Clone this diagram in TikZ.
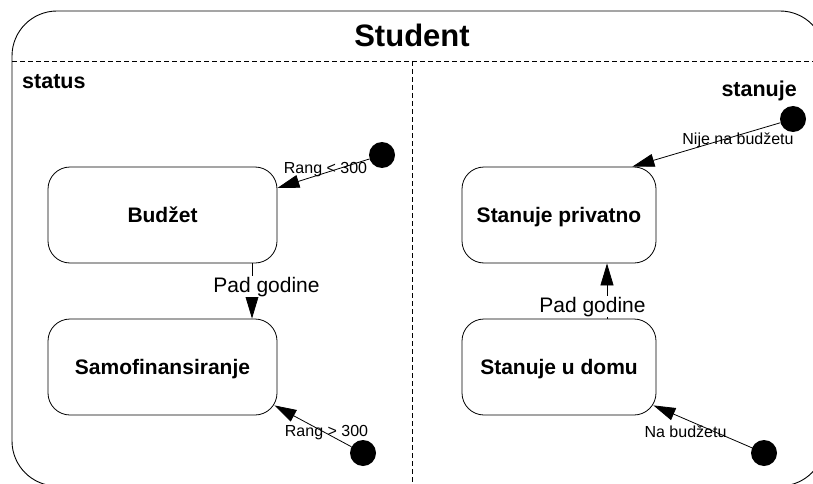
\documentclass[tikz,border=0pt]{standalone}
\usepackage{fontspec}
\setmainfont{Liberation Sans}
\usetikzlibrary{arrows.meta}
\begin{document}
\begin{tikzpicture}[x=1pt,y=1pt,
  state/.style={draw, rounded corners=22pt, line width=0.8pt, inner sep=0pt,
    font=\fontsize{21}{25}\selectfont\bfseries, text height=15.2pt, text depth=0pt},
  initial/.style={circle, fill=black, inner sep=0pt, minimum size=26pt},
  trans/.style={line width=0.8pt, -{Triangle[length=22pt,width=13pt]}},
  guard/.style={font=\fontsize{16}{19}\selectfont, inner sep=0pt, anchor=base},
  event/.style={font=\fontsize{21}{25}\selectfont, fill=white, inner sep=1pt, anchor=base},
  region/.style={font=\fontsize{21.5}{25}\selectfont\bfseries, inner sep=0pt},
  divider/.style={dash pattern=on 5pt off 3pt, line width=0.8pt}
]
\useasboundingbox (0,0) rectangle (813,483);

% composite state frame with its two orthogonal regions
\begin{scope}
  \clip (0,0) rectangle (813,483);
  \draw[line width=0.9pt, rounded corners=45pt] (12,472) rectangle (825,-3);
  \draw[divider] (12,422) -- (813,422);
  \draw[divider] (412,422) -- (412,-3);
\end{scope}

\node[font=\fontsize{31}{36}\selectfont\bfseries, inner sep=0pt, anchor=base] (title) at (412,436) {Student};
\node[region, anchor=base west] (rstatus) at (22,395) {status};
\node[region, anchor=base east] (rstanuje) at (797,386) {stanuje};

% region "status"
\node[state, minimum width=229pt, minimum height=96pt] (budzet) at (162.5,268) {Budžet};
\node[state, minimum width=229pt, minimum height=96pt] (samo) at (162.5,116) {Samofinansiranje};
\node[initial] (i1) at (382,328) {};
\node[initial] (i2) at (363,30) {};

% region "stanuje"
\node[state, minimum width=194pt, minimum height=96pt] (privatno) at (559,268) {Stanuje privatno};
\node[state, minimum width=194pt, minimum height=96pt] (domu) at (559,116) {Stanuje u domu};
\node[initial] (i3) at (793,364) {};
\node[initial] (i4) at (764,30) {};

% transitions
\draw[trans] (i1) -- ([yshift=27pt]budzet.east);
\draw[trans] (i2) -- ([xshift=-3pt,yshift=10pt]samo.south east);
\draw[trans] (i3) -- ([xshift=-24pt]privatno.north east);
\draw[trans] (i4) -- ([xshift=-3pt,yshift=10pt]domu.south east);
\draw[trans] ([xshift=89.5pt]budzet.south) -- ([xshift=89.5pt]samo.north);
\draw[trans] ([xshift=48pt]domu.north) -- ([xshift=48pt]privatno.south);

% transition labels
\node[guard] (g1) at (325.5,310) {Rang < 300};
\node[guard] (g2) at (326.5,47) {Rang > 300};
\node[guard] (g3) at (738,339) {Nije na budžetu};
\node[guard] (g4) at (685.5,46) {Na budžetu};
\node[event] (e1) at (266.5,191) {Pad godine};
\node[event] (e2) at (592.5,171) {Pad godine};
\end{tikzpicture}
\end{document}
